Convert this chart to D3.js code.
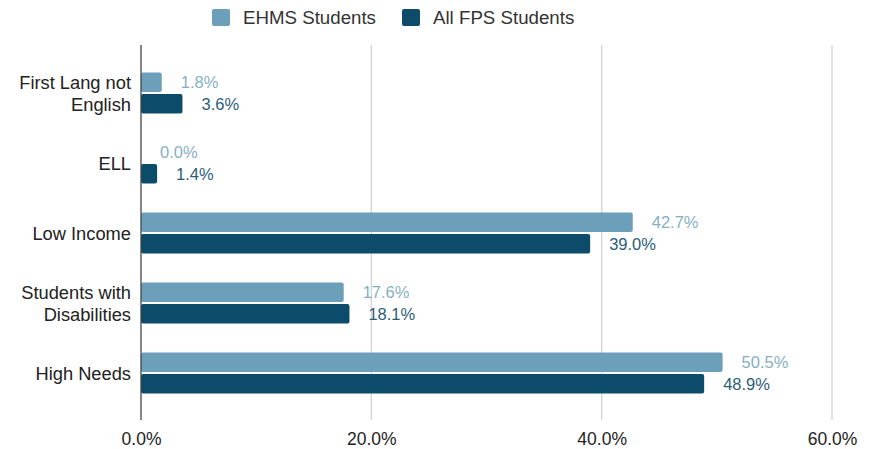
<!DOCTYPE html>
<html>
<head>
<meta charset="utf-8">
<script src="https://cdn.jsdelivr.net/npm/d3@7"></script>
<style>
  html, body { margin: 0; padding: 0; background: #fff; }
  svg { display: block; font-family: "Liberation Sans", Arial, sans-serif; }
</style>
</head>
<body>
<svg id="chart" width="874" height="449"></svg>
<script>
const categories = [["First Lang not", "English"], ["ELL"], ["Low Income"], ["Students with", "Disabilities"], ["High Needs"]];
const categoryKeys = ["First Lang not English", "ELL", "Low Income", "Students with Disabilities", "High Needs"];
const seriesNames = ["EHMS Students", "All FPS Students"];
const ehmsValues = [1.8, 0.0, 42.7, 17.6, 50.5];
const fpsValues = [3.6, 1.4, 39.0, 18.1, 48.9];
const xTicks = [0, 20, 40, 60];

const barColors = ["#6b9fba", "#0c4b6a"];
const labelColors = ["#86afc4", "#2b5d78"];

const svg = d3.select("#chart");
const x = d3.scaleLinear().domain([0, 60]).range([141, 832]);
const y0 = d3.scaleBand().domain(categoryKeys).range([58, 408]).paddingInner(0.414).paddingOuter(0.207);
const y1 = d3.scaleBand().domain(seriesNames).range([0, y0.bandwidth()]).paddingInner(0.1);

// gridlines
svg.append("g").selectAll("line").data(xTicks.filter(d => d > 0)).join("line")
  .attr("x1", d => x(d)).attr("x2", d => x(d))
  .attr("y1", 45).attr("y2", 420)
  .attr("stroke", "#d4d4d4").attr("stroke-width", 1.3);

// x axis tick labels
const xAxis = d3.axisBottom(x).tickValues(xTicks).tickSize(0).tickFormat(d => d.toFixed(1) + "%");
const gx = svg.append("g").attr("transform", "translate(0,430)").call(xAxis);
gx.select(".domain").remove();
gx.selectAll("text").attr("font-size", 17.5).attr("fill", "#222").attr("font-family", "Liberation Sans, Arial, sans-serif");

const data = categoryKeys.map((k, i) => ({ key: k, lines: categories[i], vals: [ehmsValues[i], fpsValues[i]] }));

const groups = svg.append("g").selectAll("g").data(data).join("g")
  .attr("transform", d => `translate(0,${y0(d.key)})`);

groups.selectAll("rect").data(d => d.vals.map((v, j) => ({ v, s: seriesNames[j], j }))).join("rect")
  .attr("x", x(0))
  .attr("y", d => y1(d.s))
  .attr("width", d => Math.max(0, x(d.v) - x(0)))
  .attr("height", y1.bandwidth())
  .attr("rx", 2)
  .attr("fill", d => barColors[d.j]);

groups.selectAll("text.val").data(d => d.vals.map((v, j) => ({ v, s: seriesNames[j], j }))).join("text")
  .attr("class", "val")
  .attr("x", d => x(d.v) + 19)
  .attr("y", d => y1(d.s) + y1.bandwidth() / 2)
  .attr("dy", "0.36em")
  .attr("font-size", 16.5)
  .attr("fill", d => labelColors[d.j])
  .text(d => d.v.toFixed(1) + "%");

// category labels
const cl = svg.append("g").selectAll("text").data(data).join("text")
  .attr("x", 131)
  .attr("y", d => y0(d.key) + y0.bandwidth() / 2)
  .attr("text-anchor", "end")
  .attr("font-size", 18.3)
  .attr("fill", "#222");
cl.each(function(d) {
  const t = d3.select(this);
  const n = d.lines.length;
  d.lines.forEach((line, i) => {
    t.append("tspan").attr("x", 131)
      .attr("y", y0(d.key) + y0.bandwidth() / 2 + (i - (n - 1) / 2) * 22)
      .attr("dy", "0.36em")
      .text(line);
  });
});

// y axis line
svg.append("line").attr("x1", x(0)).attr("x2", x(0)).attr("y1", 45).attr("y2", 420)
  .attr("stroke", "#444").attr("stroke-width", 1.3);

// legend
const legendX = [212, 402];
const lg = svg.append("g").selectAll("g").data(seriesNames).join("g")
  .attr("transform", (d, i) => `translate(${legendX[i]},9)`);
lg.append("rect").attr("width", 18).attr("height", 17).attr("rx", 2).attr("fill", (d, i) => barColors[i]);
lg.append("text").attr("x", 31).attr("y", 8.5).attr("dy", "0.36em").attr("font-size", 18.7).attr("fill", "#333").text(d => d);
</script>
</body>
</html>
